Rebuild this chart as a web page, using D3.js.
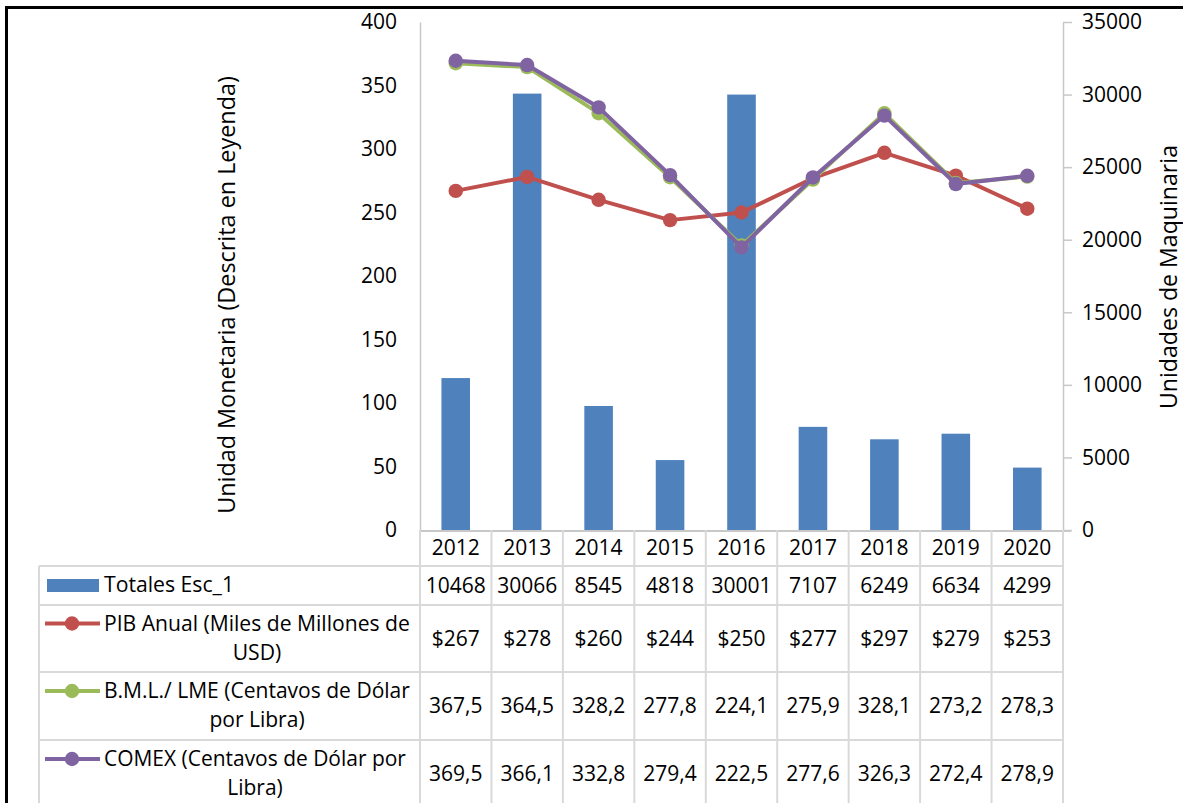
<!DOCTYPE html>
<html>
<head>
<meta charset="utf-8">
<script src="https://cdn.jsdelivr.net/npm/d3@7"></script>
<style>
  body { margin: 0; background: #fff; }
  svg text { font-family: "Open Sans", sans-serif; fill: #000; }
</style>
</head>
<body>
<div id="chart"></div>
<script>
// data
var years = ["2012", "2013", "2014", "2015", "2016", "2017", "2018", "2019", "2020"];
var totales = [10468, 30066, 8545, 4818, 30001, 7107, 6249, 6634, 4299];
var pib = [267, 278, 260, 244, 250, 277, 297, 279, 253];
var bml = [367.5, 364.5, 328.2, 277.8, 224.1, 275.9, 328.1, 273.2, 278.3];
var comex = [369.5, 366.1, 332.8, 279.4, 222.5, 277.6, 326.3, 272.4, 278.9];
var leftTicks = [0, 50, 100, 150, 200, 250, 300, 350, 400];
var rightTicks = [0, 5000, 10000, 15000, 20000, 25000, 30000, 35000];

var width = 1183, height = 803,
    fs = 21,
    x0 = 420, x1 = 1063, yTop = 22, yBot = 530,
    legX = 39;

var svg = d3.select("#chart").append("svg")
  .attr("width", width)
  .attr("height", height);

var x = d3.scaleBand().domain(years).range([x0, x1]);
var yL = d3.scaleLinear().domain([0, 400]).range([yBot, yTop]);
var yR = d3.scaleLinear().domain([0, 35000]).range([yBot, yTop]);

var comma = function(v){ return d3.format(".1f")(v).replace(".", ","); };

// shrink/grow a text so it spans roughly the same length as in the reference
function fit(sel, len) {
  var cur = sel.node().getComputedTextLength();
  var f = +sel.attr("font-size");
  sel.attr("font-size", (f * len / cur).toFixed(2));
  return sel;
}

var series = [
  { name: ["PIB Anual (Miles de Millones de", "USD)"], values: pib, color: "#C0504D", fmt: function(v){ return "$" + v; } },
  { name: ["B.M.L./ LME (Centavos de Dólar", "por Libra)"], values: bml, color: "#9BBB59", fmt: comma },
  { name: ["COMEX (Centavos de Dólar por", "Libra)"], values: comex, color: "#8064A2", fmt: comma }
];

// outer frame (only left & top visible)
svg.append("line").attr("x1", 6.5).attr("x2", 6.5).attr("y1", 6).attr("y2", height)
  .attr("stroke", "#000").attr("stroke-width", 3);
svg.append("line").attr("x1", 5).attr("x2", width).attr("y1", 7.5).attr("y2", 7.5)
  .attr("stroke", "#000").attr("stroke-width", 3);

// bars
var bw = x.bandwidth() * 0.4;
svg.append("g").selectAll("rect")
  .data(totales)
  .join("rect")
  .attr("x", function(d, i){ return x(years[i]) + (x.bandwidth() - bw) / 2; })
  .attr("y", function(d){ return yR(d); })
  .attr("width", bw)
  .attr("height", function(d){ return yBot - yR(d); })
  .attr("fill", "#4F81BD");

// left axis
var axL = svg.append("g").attr("transform", "translate(" + x0 + ",0)")
  .call(d3.axisLeft(yL).tickValues(leftTicks).tickSize(0).tickPadding(23));
axL.select(".domain").attr("stroke", "#C8C8C8").attr("stroke-width", 1.5);

// right axis
var axR = svg.append("g").attr("transform", "translate(" + x1 + ",0)")
  .call(d3.axisRight(yR).tickValues(rightTicks).tickFormat(d3.format("d"))
    .tickSize(9).tickPadding(10).tickSizeOuter(0));
axR.select(".domain").attr("stroke", "#C8C8C8").attr("stroke-width", 1.5);
axR.selectAll(".tick line").attr("stroke", "#C8C8C8").attr("stroke-width", 1.5);
[axL, axR].forEach(function(ax){
  ax.attr("font-family", null).attr("font-size", null);
  ax.selectAll("text").attr("font-size", fs);
});

// axis titles
fit(svg.append("text")
  .attr("transform", "translate(235,295) rotate(-90)")
  .attr("text-anchor", "middle")
  .attr("font-size", fs)
  .text("Unidad Monetaria (Descrita en Leyenda)"), 438);
fit(svg.append("text")
  .attr("transform", "translate(1177,277) rotate(-90)")
  .attr("text-anchor", "middle")
  .attr("font-size", fs)
  .text("Unidades de Maquinaria"), 264);

// lines + markers
var line = d3.line()
  .x(function(d, i){ return x(years[i]) + x.bandwidth() / 2; })
  .y(function(d){ return yL(d); });

series.forEach(function(s){
  var g = svg.append("g");
  g.append("path")
    .datum(s.values)
    .attr("d", line)
    .attr("fill", "none")
    .attr("stroke", s.color)
    .attr("stroke-width", 4)
    .attr("stroke-linejoin", "round");
  g.selectAll("circle")
    .data(s.values)
    .join("circle")
    .attr("cx", function(d, i){ return x(years[i]) + x.bandwidth() / 2; })
    .attr("cy", function(d){ return yL(d); })
    .attr("r", 7.2)
    .attr("fill", s.color);
});

// data table
var rows = [
  { top: 566, bot: 605 },
  { top: 605, bot: 672 },
  { top: 672, bot: 740 },
  { top: 740, bot: 808 }
];
var grid = svg.append("g").attr("stroke", "#D9D9D9").attr("stroke-width", 2);
// horizontal axis line / table top
grid.append("line").attr("x1", x0).attr("x2", 1071).attr("y1", yBot + 1).attr("y2", yBot + 1)
  .attr("stroke", "#C8C8C8");
[566, 605, 672, 740].forEach(function(y){
  grid.append("line").attr("x1", legX).attr("x2", x1).attr("y1", y).attr("y2", y);
});
grid.append("line").attr("x1", legX).attr("x2", legX).attr("y1", 566).attr("y2", height);
years.concat(["end"]).forEach(function(yr, i){
  var xx = x0 + i * x.step();
  grid.append("line").attr("x1", xx).attr("x2", xx).attr("y1", yBot).attr("y2", height);
});

// year header
svg.append("g").selectAll("text")
  .data(years)
  .join("text")
  .attr("x", function(d){ return x(d) + x.bandwidth() / 2; })
  .attr("y", 548)
  .attr("dy", "0.35em")
  .attr("text-anchor", "middle")
  .attr("font-size", fs)
  .text(function(d){ return d; });

// totals row
svg.append("g").selectAll("text")
  .data(totales)
  .join("text")
  .attr("x", function(d, i){ return x(years[i]) + x.bandwidth() / 2; })
  .attr("y", (rows[0].top + rows[0].bot) / 2)
  .attr("dy", "0.35em")
  .attr("text-anchor", "middle")
  .attr("font-size", fs)
  .text(function(d){ return d; });

svg.append("rect").attr("x", 47).attr("y", 579).attr("width", 52).attr("height", 13).attr("fill", "#4F81BD");
var tot = svg.append("text").attr("x", 104).attr("y", 585).attr("dy", "0.35em").attr("font-size", fs).text("Totales Esc_1");
fit(tot, 130);

var legLen = [306, 306, 302];
series.forEach(function(s, k){
  var r = rows[k + 1], mid = (r.top + r.bot) / 2;
  svg.append("g").selectAll("text")
    .data(s.values)
    .join("text")
    .attr("x", function(d, i){ return x(years[i]) + x.bandwidth() / 2; })
    .attr("y", mid)
    .attr("dy", "0.35em")
    .attr("text-anchor", "middle")
    .attr("font-size", fs)
    .text(s.fmt);

  var y1 = mid - 15, y2 = mid + 14;
  svg.append("line").attr("x1", 45).attr("x2", 100).attr("y1", y1).attr("y2", y1)
    .attr("stroke", s.color).attr("stroke-width", 4);
  svg.append("circle").attr("cx", 72).attr("cy", y1).attr("r", 7.2).attr("fill", s.color);
  var t1 = svg.append("text").attr("x", 104).attr("y", y1).attr("dy", "0.35em").attr("font-size", fs).text(s.name[0]);
  fit(t1, legLen[k]);
  svg.append("text").attr("x", 104 + legLen[k] / 2).attr("y", y2).attr("dy", "0.35em").attr("text-anchor", "middle")
    .attr("font-size", t1.attr("font-size")).text(s.name[1]);
});
</script>
</body>
</html>
